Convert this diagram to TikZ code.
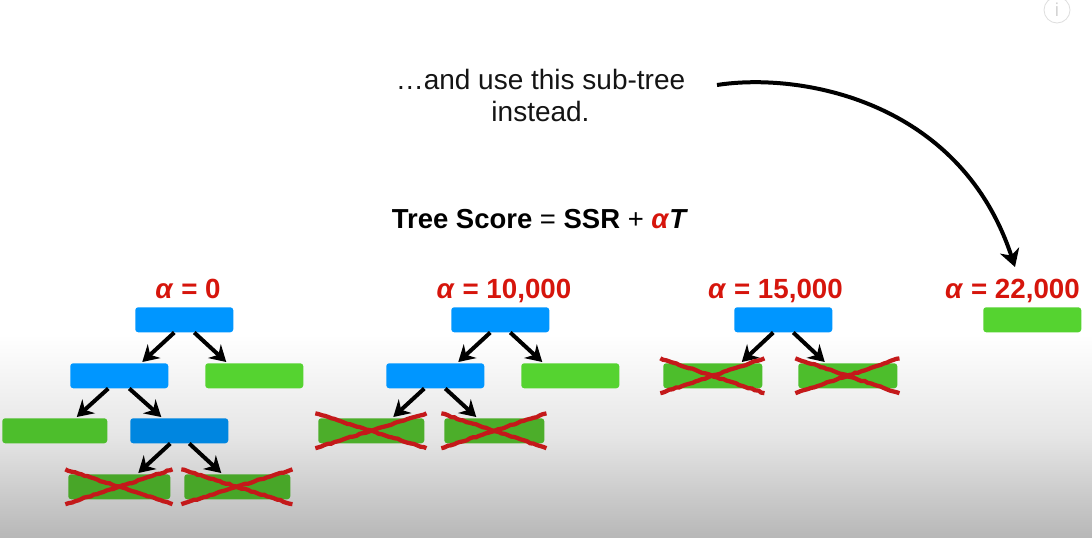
\documentclass[tikz,border=0pt]{standalone}
\usepackage{fontspec}
\setmainfont{Liberation Sans}
\usetikzlibrary{arrows.meta,calc,decorations.pathmorphing}
\definecolor{cblue}{HTML}{0096FF}
\definecolor{cblueb}{HTML}{0086E0}
\definecolor{cgreen}{HTML}{55D330}
\definecolor{cgreenb}{HTML}{4DBE2C}
\definecolor{cgreenc}{HTML}{4CAE2A}
\definecolor{cgreend}{HTML}{48A628}
\definecolor{cred}{HTML}{D6150C}
\definecolor{cxred}{HTML}{C4191A}
\tikzset{
  boxbase/.style={rounded corners=2.2pt,inner sep=0pt,anchor=north west,minimum height=18.75pt},
  bluebox/.style={boxbase,fill=cblue,minimum width=73.5pt},
  greenbox/.style={boxbase,fill=cgreen,minimum width=73.5pt},
  edgearrow/.style={line width=3pt,-{Stealth[length=12pt,width=14pt,inset=4pt]}},
  crossline/.style={draw=cxred,line width=3.2pt,decorate,decoration={random steps,segment length=2.5pt,amplitude=.4pt}},
  alphalabel/.style={text=cred,font=\fontsize{20.8}{24}\selectfont\bfseries,inner sep=0pt,anchor=base},
  plaintext/.style={font=\fontsize{21}{24}\selectfont,align=center,inner sep=0pt,text=black!92}
}
\newcommand{\crossout}[1]{%
  \draw[crossline] ($(#1.north west)+(-2pt,3.5pt)$) -- ($(#1.south east)+(1.5pt,-3.5pt)$);
  \draw[crossline] ($(#1.south west)+(-2pt,-3.5pt)$) -- ($(#1.north east)+(1.5pt,3.5pt)$);
}
\begin{document}
\begin{tikzpicture}[x=0.75pt,y=-0.75pt]
\useasboundingbox (0,0) rectangle (1092,537);
\fill[white] (0,0) rectangle (1092,537);
\shade[top color=white,bottom color=black!28,middle color=black!10] (0,335) rectangle (1092,537);

% info icon
\node[circle,draw=black!13,line width=.6pt,minimum size=19.5pt,inner sep=0pt,text=black!17,font=\fontsize{14}{14}\selectfont] (info) at (1057,10) {i};

% texts
\node[plaintext] (say) at (540.5,95) {…and use this sub-tree\\instead.};
\node[inner sep=0pt,font=\fontsize{20.6}{24}\selectfont,text=black] (score) at (540,219)
  {\textbf{Tree Score} = \textbf{SSR} + \textcolor{cred}{\textbf{\textit{α}}}\textbf{\textit{T}}};
\node[alphalabel] (la) at (188,298) {\textit{α} = 0};
\node[alphalabel] (lb) at (504,298) {\textit{α} = 10,000};
\node[alphalabel] (lc) at (775.5,298) {\textit{α} = 15,000};
\node[alphalabel] (ld) at (1012.5,298) {\textit{α} = 22,000};

% tree 1
\node[bluebox] (a1) at (135,307) {};
\node[bluebox] (a2) at (70,363) {};
\node[greenbox] (a3) at (205,363) {};
\node[greenbox,fill=cgreenb,minimum width=78.75pt] (a4) at (2,418) {};
\node[bluebox,fill=cblueb] (a5) at (130,418) {};
\node[greenbox,fill=cgreend,minimum width=76.5pt] (a6) at (68,474) {};
\node[greenbox,fill=cgreend,minimum width=79.5pt] (a7) at (184,474) {};
% tree 2
\node[bluebox] (b1) at (451,307) {};
\node[bluebox] (b2) at (386,363) {};
\node[greenbox] (b3) at (521,363) {};
\node[greenbox,fill=cgreenc,minimum width=79.5pt] (b4) at (318,418) {};
\node[greenbox,fill=cgreenc,minimum width=75pt] (b5) at (444,418) {};
% tree 3
\node[bluebox] (c1) at (734,307) {};
\node[greenbox,fill=cgreenb,minimum width=74.25pt] (c2) at (663,363) {};
\node[greenbox,fill=cgreenb,minimum width=74.25pt] (c3) at (798,363) {};
% tree 4
\node[greenbox] (d1) at (983,307) {};

% connectors
\foreach \p/\q/\dx/\ex in {
  a1/a2/-10/23, a1/a3/10/-28,
  a2/a4/-11/22, a2/a5/10/-18,
  a5/a6/-9/19, a5/a7/10/-16,
  b1/b2/-10/23, b1/b3/10/-28,
  b2/b4/-11/22, b2/b5/10/-18,
  c1/c2/-10/29, c1/c3/10/-23}{
  \draw[edgearrow] ($(\p.south)+(\dx,0)$) -- ($(\q.north)+(\ex,-1)$);
}

% crosses
\foreach \n in {a6,a7,b4,b5,c2,c3}{\crossout{\n}}

% big curved arrow
\coordinate (start) at (717,85);
\coordinate (finish) at (1015,267);
\draw[line width=3pt,-{Stealth[length=13pt,width=15pt,inset=4pt]}] (start)
  .. controls (800,72) and (960,100) .. (finish);
\end{tikzpicture}
\end{document}
